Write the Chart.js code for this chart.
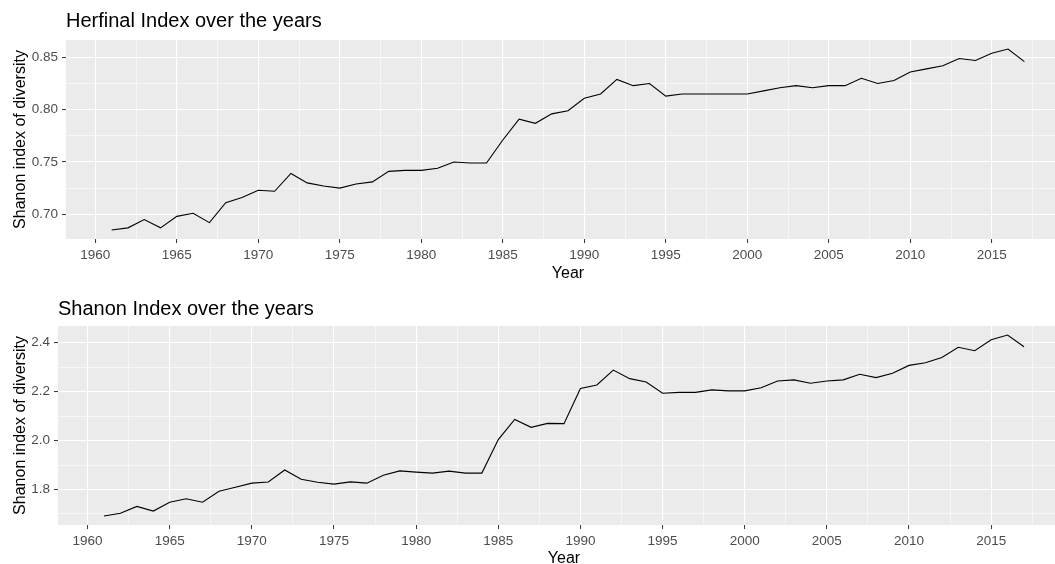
<!DOCTYPE html>
<html>
<head>
<meta charset="utf-8">
<script src="https://cdn.jsdelivr.net/npm/chart.js@4.4.0/dist/chart.umd.min.js"></script>
<style>
    html, body { margin: 0; padding: 0; background: #fff; width: 1055px; height: 564px; overflow: hidden; }
    #graphHerfinal { position: absolute; left: 0; top: 0; }
    #graphShanon { position: absolute; left: 0; top: 290px; }
</style>
</head>
<body>
<canvas id="graphHerfinal" width="1070" height="285"></canvas>
<canvas id="graphShanon" width="1070" height="284"></canvas>
<script>
var years = [1961, 1962, 1963, 1964, 1965, 1966, 1967, 1968, 1969, 1970,
    1971, 1972, 1973, 1974, 1975, 1976, 1977, 1978, 1979, 1980,
    1981, 1982, 1983, 1984, 1985, 1986, 1987, 1988, 1989, 1990,
    1991, 1992, 1993, 1994, 1995, 1996, 1997, 1998, 1999, 2000,
    2001, 2002, 2003, 2004, 2005, 2006, 2007, 2008, 2009, 2010,
    2011, 2012, 2013, 2014, 2015, 2016, 2017];

var herfinal = [0.685, 0.687, 0.695, 0.687, 0.698, 0.701, 0.692, 0.711, 0.716, 0.723,
    0.722, 0.739, 0.730, 0.727, 0.725, 0.729, 0.731, 0.741, 0.742, 0.742,
    0.744, 0.750, 0.749, 0.749, 0.771, 0.791, 0.787, 0.796, 0.799, 0.811,
    0.815, 0.829, 0.823, 0.825, 0.813, 0.815, 0.815, 0.815, 0.815, 0.815,
    0.818, 0.821, 0.823, 0.821, 0.823, 0.823, 0.830, 0.825, 0.828, 0.836,
    0.839, 0.842, 0.849, 0.847, 0.854, 0.858, 0.846];

var shanon = [1.692, 1.703, 1.731, 1.712, 1.748, 1.762, 1.748, 1.793, 1.809, 1.826,
    1.831, 1.880, 1.842, 1.830, 1.822, 1.831, 1.826, 1.858, 1.876, 1.871,
    1.867, 1.875, 1.867, 1.867, 2.004, 2.086, 2.054, 2.070, 2.069, 2.213,
    2.227, 2.288, 2.253, 2.239, 2.193, 2.197, 2.197, 2.207, 2.203, 2.203,
    2.216, 2.243, 2.248, 2.234, 2.243, 2.248, 2.271, 2.257, 2.275, 2.307,
    2.318, 2.339, 2.381, 2.367, 2.412, 2.431, 2.383];

var xTicks = [1960, 1965, 1970, 1975, 1980, 1985, 1990, 1995, 2000, 2005, 2010, 2015];
var herfinalTicks = [0.70, 0.75, 0.80, 0.85];
var shanonTicks = [1.8, 2.0, 2.2, 2.4];

Chart.defaults.font.family = "'Liberation Sans', Arial, sans-serif";

//fond gris du panneau (style ggplot)
var panelBackground = {
    id: 'panelBackground',
    beforeDraw: function (chart) {
        var a = chart.chartArea;
        var ctx = chart.ctx;
        ctx.save();
        ctx.fillStyle = '#EBEBEB';
        ctx.fillRect(a.left, a.top, a.right - a.left, a.bottom - a.top);
        ctx.restore();
    }
};

function isMajor(major, v) {
    return major.some(function (m) { return Math.abs(m - v) < 1e-9; });
}

//ticks majeurs + mineurs (milieux)
function withMinor(major) {
    var step = major[1] - major[0];
    var list = [];
    major.forEach(function (m) { list.push(m - step / 2); list.push(m); });
    list.push(major[major.length - 1] + step / 2);
    list.push(major[major.length - 1] + step);
    return list;
}

function gridStyle(major) {
    return {
        color: '#FFFFFF',
        lineWidth: function (c) { return c.tick && isMajor(major, c.tick.value) ? 1.1 : 0.55; },
        tickColor: function (c) { return c.tick && isMajor(major, c.tick.value) ? '#333333' : 'rgba(0,0,0,0)'; },
        tickWidth: 1,
        tickLength: 4,
        drawTicks: true
    };
}

function DisplayGraphIndex(graphId, title, values, yMajor, digits, lay) {
    var yMin = Math.min.apply(null, values);
    var yMax = Math.max.apply(null, values);
    var yExp = (yMax - yMin) * 0.05;
    var xExp = (years[years.length - 1] - years[0]) * 0.05;
    var points = years.map(function (y, i) { return { x: y, y: values[i] }; });

    var ctx = document.getElementById(graphId).getContext('2d');
    var chart = new Chart(ctx, {
        type: 'line',
        data: {
            datasets: [{
                data: points,
                borderColor: '#000000',
                borderWidth: 1.1,
                pointRadius: 0,
                tension: 0,
                fill: false
            }]
        },
        options: {
            responsive: false,
            animation: false,
            layout: { padding: 0 },
            plugins: {
                legend: { display: false },
                tooltip: { enabled: false },
                title: {
                    display: true,
                    text: title,
                    align: 'start',
                    fullSize: false,
                    color: '#000000',
                    font: { size: 20, weight: 'normal' },
                    padding: { top: lay.titleTop, bottom: lay.titleBottom }
                }
            },
            scales: {
                x: {
                    type: 'linear',
                    min: years[0] - xExp,
                    max: years[years.length - 1] + xExp,
                    afterBuildTicks: function (s) {
                        s.ticks = withMinor(xTicks).filter(function (v) { return v >= s.min && v <= s.max; })
                            .map(function (v) { return { value: v }; });
                    },
                    afterFit: function (s) { s.height = lay.xHeight; },
                    grid: gridStyle(xTicks),
                    border: { display: false },
                    ticks: {
                        autoSkip: false,
                        maxRotation: 0,
                        padding: 4,
                        color: '#4D4D4D',
                        font: { size: 13.5 },
                        callback: function (v) { return isMajor(xTicks, v) ? String(v) : ''; }
                    },
                    title: {
                        display: true,
                        text: 'Year',
                        color: '#000000',
                        font: { size: 16 },
                        padding: { top: 0, bottom: lay.xTitleBottom }
                    }
                },
                y: {
                    type: 'linear',
                    min: yMin - yExp,
                    max: yMax + yExp,
                    afterBuildTicks: function (s) {
                        s.ticks = withMinor(yMajor).filter(function (v) { return v >= s.min && v <= s.max; })
                            .map(function (v) { return { value: v }; });
                    },
                    afterFit: function (s) { s.width = lay.yWidth; },
                    grid: gridStyle(yMajor),
                    border: { display: false },
                    ticks: {
                        autoSkip: false,
                        padding: 4,
                        color: '#4D4D4D',
                        font: { size: 13.5 },
                        callback: function (v) { return isMajor(yMajor, v) ? v.toFixed(digits) : ''; }
                    },
                    title: {
                        display: true,
                        text: 'Shanon index of diversity',
                        color: '#000000',
                        font: { size: 16 },
                        padding: { top: 11, bottom: 0 }
                    }
                }
            }
        },
        plugins: [panelBackground]
    });
    return chart;
}

DisplayGraphIndex('graphHerfinal', 'Herfinal Index over the years', herfinal, herfinalTicks, 2,
    { titleTop: 9.5, titleBottom: 6.5, xHeight: 46, xTitleBottom: 1.5, yWidth: 66 });
DisplayGraphIndex('graphShanon', 'Shanon Index over the years', shanon, shanonTicks, 1,
    { titleTop: 7.5, titleBottom: 4.5, xHeight: 49, xTitleBottom: 5.5, yWidth: 58 });
</script>
</body>
</html>
